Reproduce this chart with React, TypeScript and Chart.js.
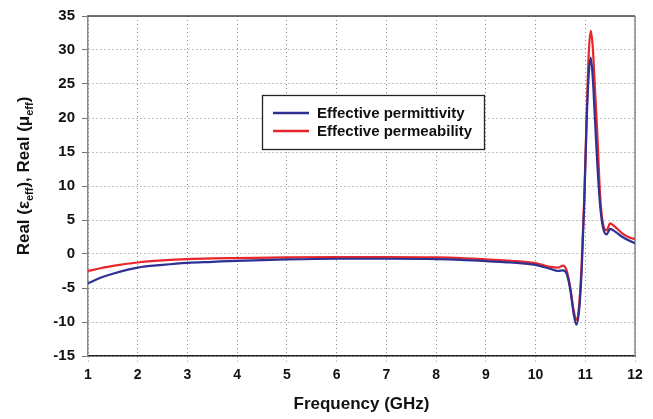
import { useEffect, useRef } from "react";
import { Chart, registerables } from "chart.js";

Chart.register(...registerables);

const frequencyGHz = [1, 1.25, 1.5, 2, 2.5, 3, 3.5, 4, 5, 6, 7, 8, 8.5, 9, 9.5, 10, 10.3, 10.45, 10.55, 10.62, 10.7, 10.76, 10.82, 10.88, 10.93, 10.98, 11.03, 11.07, 11.11, 11.15, 11.19, 11.24, 11.3, 11.36, 11.43, 11.5, 11.6, 11.75, 11.9, 12];

const permittivity = [-4.3, -3.5, -2.9, -2.0, -1.6, -1.3, -1.15, -1.0, -0.8, -0.7, -0.7, -0.75, -0.85, -1.05, -1.25, -1.6, -2.2, -2.5, -2.4, -2.8, -5.3, -8.5, -10.4, -8.0, -2.0, 7.5, 20.0, 26.5, 28.9, 26.0, 20.5, 13.5, 7.0, 3.8, 2.9, 3.7, 3.3, 2.5, 1.9, 1.6];

const permeability = [-2.5, -2.1, -1.75, -1.25, -0.95, -0.75, -0.65, -0.6, -0.5, -0.45, -0.45, -0.5, -0.6, -0.8, -1.0, -1.35, -1.9, -2.0, -1.7, -2.3, -5.0, -8.0, -9.7, -7.2, -1.0, 8.5, 21.0, 29.5, 32.8, 30.5, 25.0, 18.0, 8.5, 4.3, 3.5, 4.5, 4.0, 3.0, 2.4, 2.2];

const seriesLabels = ["Effective permittivity", "Effective permeability"];
const seriesColors = ["#2E3192", "#E8262B"];
const xTitle = "Frequency (GHz)";
const xRange = [1, 12];
const yRange = [-15, 35];

const FONT = '"Liberation Sans", Arial, sans-serif';

const framePlugin = {
  id: "frame",
  beforeDatasetsDraw(chart: any) {
    const { ctx, chartArea } = chart;
    const { left, right, top, bottom } = chartArea;
    ctx.save();
    ctx.lineWidth = 1.5;
    ctx.strokeStyle = "#444";
    ctx.beginPath();
    ctx.moveTo(left, top);
    ctx.lineTo(right, top);
    ctx.stroke();
    ctx.strokeStyle = "#888";
    ctx.beginPath();
    ctx.moveTo(right, top);
    ctx.lineTo(right, bottom);
    ctx.stroke();
    ctx.restore();
  },
};

const yTitlePlugin = {
  id: "yTitle",
  afterDraw(chart: any) {
    const { ctx } = chart;
    const big = `bold 17px ${FONT}`;
    const small = `bold 11px ${FONT}`;
    const parts: [string, boolean][] = [
      ["Real (", false],
      ["ε", false],
      ["eff", true],
      ["), Real (", false],
      ["μ", false],
      ["eff", true],
      [")", false],
    ];
    ctx.save();
    let total = 0;
    const widths: number[] = [];
    for (const [t, sub] of parts) {
      ctx.font = sub ? small : big;
      const w = ctx.measureText(t).width;
      widths.push(w);
      total += w;
    }
    ctx.translate(23, 176);
    ctx.rotate(-Math.PI / 2);
    ctx.fillStyle = "#111";
    ctx.textBaseline = "alphabetic";
    ctx.textAlign = "left";
    let x = -total / 2;
    parts.forEach(([t, sub], i) => {
      ctx.font = sub ? small : big;
      ctx.fillText(t, x, sub ? 10 : 6);
      x += widths[i];
    });
    ctx.restore();
  },
};

const legendPlugin = {
  id: "boxLegend",
  afterDraw(chart: any) {
    const { ctx } = chart;
    const bx = 262.5, by = 95.5, bw = 222, bh = 54;
    ctx.save();
    ctx.fillStyle = "#fff";
    ctx.fillRect(bx, by, bw, bh);
    ctx.strokeStyle = "#222";
    ctx.lineWidth = 1.3;
    ctx.strokeRect(bx, by, bw, bh);
    ctx.font = `bold 15px ${FONT}`;
    ctx.textBaseline = "middle";
    ctx.textAlign = "left";
    chart.data.datasets.forEach((ds: any, i: number) => {
      const y = 113 + i * 18;
      ctx.strokeStyle = ds.borderColor;
      ctx.lineWidth = 2.5;
      ctx.beginPath();
      ctx.moveTo(273, y);
      ctx.lineTo(309, y);
      ctx.stroke();
      ctx.fillStyle = "#111";
      ctx.fillText(ds.label, 317, y + 0.5);
    });
    ctx.restore();
  },
};

export default function App() {
  const ref = useRef<HTMLCanvasElement>(null);

  useEffect(() => {
    document.body.style.margin = "0";
    const canvas = ref.current;
    if (!canvas) return;
    const chart = new Chart(canvas, {
      type: "line",
      data: {
        datasets: [permittivity, permeability].map((vals, i) => ({
          label: seriesLabels[i],
          data: frequencyGHz.map((f, j) => ({ x: f, y: vals[j] })),
          borderColor: seriesColors[i],
          backgroundColor: seriesColors[i],
          borderWidth: 2.2,
          pointRadius: 0,
          cubicInterpolationMode: "monotone" as const,
          fill: false,
        })),
      },
      options: {
        responsive: false,
        animation: false,
        devicePixelRatio: 1,
        layout: { padding: { top: 11, right: 18, left: 0, bottom: 0 } },
        plugins: {
          legend: { display: false },
          tooltip: { enabled: false },
        },
        scales: {
          x: {
            type: "linear",
            min: xRange[0],
            max: xRange[1],
            afterFit: (s: any) => {
              s.height = 63;
            },
            ticks: {
              stepSize: 1,
              padding: 5,
              color: "#111",
              font: { family: FONT, size: 14, weight: "bold" },
            },
            grid: {
              color: "#888",
              lineWidth: 1,
              tickLength: 6,
              tickColor: "#999",
              tickBorderDash: [1, 3],
            },
            border: { color: "#222", width: 1.5, dash: [1, 3] },
            title: {
              display: true,
              text: xTitle,
              color: "#111",
              font: { family: FONT, size: 17, weight: "bold" },
              padding: { top: 0, bottom: 4 },
            },
          },
          y: {
            type: "linear",
            min: yRange[0],
            max: yRange[1],
            afterFit: (s: any) => {
              s.width = 88;
            },
            ticks: {
              stepSize: 5,
              padding: 7,
              color: "#111",
              font: { family: FONT, size: 15, weight: "bold" },
            },
            grid: {
              color: "#888",
              lineWidth: 1,
              tickLength: 6,
              tickColor: "#777",
            },
            border: { color: "#888", width: 1.5, dash: [1, 3] },
          },
        },
      },
      plugins: [framePlugin, yTitlePlugin, legendPlugin],
    });
    return () => chart.destroy();
  }, []);

  return (
    <div style={{ width: 653, height: 419, background: "#fff" }}>
      <canvas ref={ref} width={653} height={419} style={{ display: "block" }} />
    </div>
  );
}
